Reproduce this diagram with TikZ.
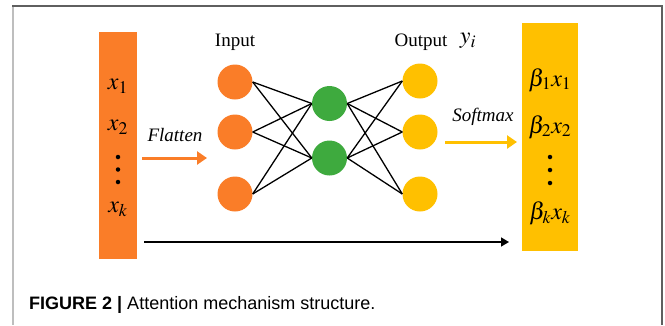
\documentclass[tikz,border=0pt]{standalone}
\usepackage{mathptmx}
\usepackage{fontspec}
\setmainfont{Liberation Serif}
\newfontfamily\capfont{Liberation Sans}
\usetikzlibrary{arrows.meta,positioning}
\definecolor{balkenorange}{RGB}{250,125,40}
\definecolor{balkengelb}{RGB}{255,192,0}
\definecolor{neurongruen}{RGB}{62,170,62}
\definecolor{rahmengrau}{RGB}{95,95,95}
\definecolor{rahmenhell}{RGB}{190,190,190}

\begin{document}
\begin{tikzpicture}[x=1pt, y=-1pt,
        neuron/.style = {circle, minimum size=35pt, inner sep=0pt},
        balken/.style = {minimum width=#1, inner sep=0pt},
        schrift/.style = {font=\fontsize{19}{21}\selectfont, inner sep=0pt},
        formel/.style = {font=\fontsize{24}{26}\selectfont, inner sep=0pt},
        verbindung/.style = {black, line width=1.3pt},
        punkt/.style = {circle, fill=black, minimum size=4.5pt, inner sep=0pt}]
        \useasboundingbox (0,0) rectangle (665,325);

        % Rahmen
            \draw[rahmenhell, line width=2pt] (13,6) -- (13,325);
            \draw[rahmengrau, line width=2pt] (12,6) -- (662,6) -- (662,325);

        % Balken
            \node[balken=38pt, minimum height=227pt, fill=balkenorange] (xbar) at (118,145.5) {};
            \node[balken=56pt, minimum height=228pt, fill=balkengelb] (betabar) at (550,137) {};

        % Texte in den Balken
            \node[formel] (x1) at (118,86) {$x_1$};
            \node[formel] (x2) at (118,127) {$x_2$};
            \node[punkt] (xd1) at (118,157) {};
            \node[punkt] (xd2) at (118,169.5) {};
            \node[punkt] (xd3) at (118,182) {};
            \node[formel] (xk) at (118,209) {$x_k$};
            \node[formel] (bx1) at (550,80) {$\beta_1 x_1$};
            \node[formel] (bx2) at (550,127) {$\beta_2 x_2$};
            \node[punkt] (bd1) at (550,157) {};
            \node[punkt] (bd2) at (550,170) {};
            \node[punkt] (bd3) at (550,183) {};
            \node[formel] (bxk) at (550,213) {$\beta_k x_k$};

        % Neuronen
            \node[neuron, fill=balkenorange] (in1) at (235,82) {};
            \node[neuron, fill=balkenorange] (in2) at (235,132) {};
            \node[neuron, fill=balkenorange] (in3) at (235,194) {};
            \node[neuron, fill=neurongruen] (hid1) at (329.5,103.5) {};
            \node[neuron, fill=neurongruen] (hid2) at (329.5,158) {};
            \node[neuron, fill=balkengelb] (out1) at (420,81) {};
            \node[neuron, fill=balkengelb] (out2) at (420,132) {};
            \node[neuron, fill=balkengelb] (out3) at (420,194) {};

        % Verbindungen
            \foreach \i in {1,2,3} {
                \foreach \j in {1,2} {
                    \draw[verbindung] (in\i.east) -- (hid\j.west);
                    \draw[verbindung] (hid\j.east) -- (out\i.west);
                }
            }

        % Pfeile
            \coordinate (flatA) at (142,158);
            \coordinate (flatB) at (207,158);
            \coordinate (softA) at (445,142);
            \coordinate (softB) at (517,142);
            \coordinate (langA) at (144,242);
            \coordinate (langB) at (509,242);
            \draw[balkenorange, line width=3pt, -{Triangle[length=10pt, width=13pt]}] (flatA) -- (flatB);
            \draw[balkengelb, line width=3pt, -{Triangle[length=10pt, width=13pt]}] (softA) -- (softB);
            \draw[black, line width=1.5pt, -{Triangle[length=8pt, width=9pt]}] (langA) -- (langB);

        % Beschriftungen
            \node[schrift] (inlabel) at (235,42) {Input};
            \node[schrift] (outlabel) at (421,42) {Output};
            \node[formel] (ylabel) at (468,41) {$y_i$};
            \node[schrift] (flatlabel) at (175,135) {\itshape Flatten};
            \node[schrift] (softlabel) at (483,117) {\itshape Softmax};

        % Bildunterschrift
            \node[anchor=west, inner sep=0pt, font=\capfont\fontsize{18}{20}\selectfont] (caption) at (29,305)
                {\textbf{FIGURE 2 |} Attention mechanism structure.};
\end{tikzpicture}
\end{document}
